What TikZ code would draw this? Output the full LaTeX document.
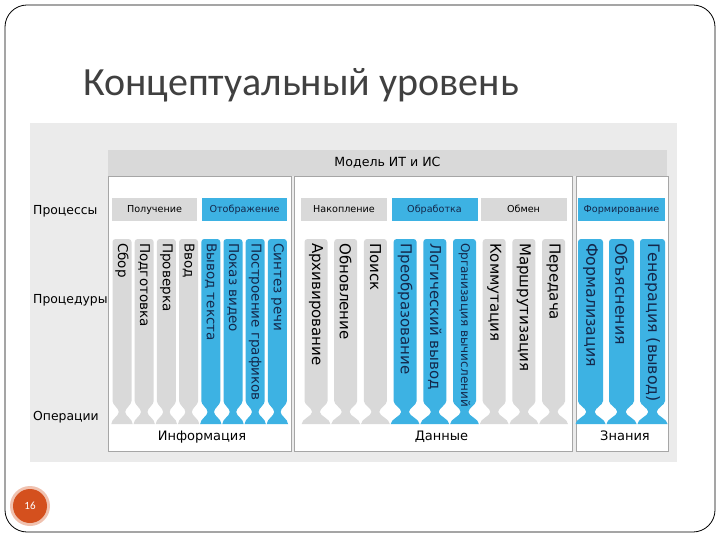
\documentclass[tikz,border=0pt]{standalone}
\usepackage{fontspec}
\setmainfont{DejaVu Sans}
\newfontfamily\titlefont{Carlito}
\definecolor{bluec}{HTML}{3DB2E3}
\definecolor{grayc}{HTML}{D9D9D9}
\definecolor{bgc}{HTML}{EBEBEB}
\definecolor{navy}{HTML}{14284B}
\definecolor{bordc}{HTML}{A6A6A6}
\definecolor{titlec}{HTML}{404040}
\definecolor{numc}{HTML}{D4501E}
\newcommand\colm[8]{%
  \pgfmathsetmacro\hw{#3/2}\pgfmathsetmacro\hn{#3*0.17}\pgfmathsetmacro\hp{#4/2-0.5}%
  \fill[#5] ({#2-\hw},300) [rounded corners=3pt] -- ({#2-\hw},239) -- ({#2+\hw},239) [sharp corners] -- ({#2+\hw},401)
    .. controls ({#2+\hw},405) and ({#2+\hn},408) .. ({#2+\hn},412)
    .. controls ({#2+\hn},416) and ({#2+\hp},419) .. ({#2+\hp},424)
    -- ({#2-\hp},424)
    .. controls ({#2-\hp},419) and ({#2-\hn},416) .. ({#2-\hn},412)
    .. controls ({#2-\hn},408) and ({#2-\hw},405) .. ({#2-\hw},401) -- cycle;
  \node[rotate=-90, anchor=west, text=#6, font=\fontsize{#7}{#7}\selectfont, inner sep=0pt] (#1) at (#2,243) {#8};%
}
\begin{document}
\begin{tikzpicture}[x=1pt,y=-1pt,
  panel/.style={fill=white, draw=bordc, line width=1pt, anchor=north west, inner sep=0pt},
  procg/.style={fill=grayc, text=black, minimum height=23pt, inner sep=0pt, text height=7pt, text depth=2pt, font=\fontsize{9.6}{10}\selectfont},
  procb/.style={procg, fill=bluec, text=navy},
  side/.style={anchor=west, inner sep=0pt, font=\fontsize{12.4}{13}\selectfont},
  bottom/.style={inner sep=0pt, text height=9.5pt, text depth=3pt, font=\fontsize{13}{14}\selectfont}]
\useasboundingbox (0,0) rectangle (720,540);
\draw[rounded corners=22pt, line width=0.8pt] (5,5) rectangle (715,532);
\node[anchor=base west, font=\titlefont\fontsize{40}{40}\selectfont, text=titlec, inner sep=0pt] (title) at (83,96) {Концептуальный уровень};
% background
\fill[bgc] (30,123) rectangle (677,462);
% panels
\node[panel, minimum width=183pt, minimum height=275pt] (p1) at (108,176) {};
\node[panel, minimum width=278pt, minimum height=275pt] (p2) at (294,176) {};
\node[panel, minimum width=92pt, minimum height=275pt] (p3) at (576,176) {};
% header
\node[fill=grayc, minimum width=559pt, minimum height=26pt, inner sep=0pt, font=\fontsize{12.6}{13}\selectfont] (hdr) at (387.5,163) {Модель ИТ и ИС};
% side labels
\node[side] (l1) at (33,211) {Процессы};
\node[side] (l2) at (33,300) {Процедуры};
\node[side] (l3) at (33,417) {Операции};
% processes
\node[procg, minimum width=85pt] (pr1) at (154.5,210) {Получение};
\node[procb, minimum width=85pt] (pr2) at (244.5,210) {Отображение};
\node[procg, minimum width=86pt] (pr3) at (344,210) {Накопление};
\node[procb, minimum width=86pt] (pr4) at (434.5,210) {Обработка};
\node[procg, minimum width=86pt] (pr5) at (523.5,210) {Обмен};
\node[procb, minimum width=87pt] (pr6) at (621.5,210) {Формирование};
% columns panel 1
\colm{c1}{122}{19}{22.2}{grayc}{black}{13.5}{Сбор}
\colm{c2}{144.2}{19}{22.2}{grayc}{black}{13.5}{Подготовка}
\colm{c3}{166.4}{19}{22.2}{grayc}{black}{13.5}{Проверка}
\colm{c4}{188.6}{19}{22.2}{grayc}{black}{13.5}{Ввод}
\colm{c5}{210.8}{19}{22.2}{bluec}{navy}{13.5}{Вывод текста}
\colm{c6}{233}{19}{22.2}{bluec}{navy}{13.5}{Показ видео}
\colm{c7}{255.2}{19}{22.2}{bluec}{navy}{13.5}{Построение графиков}
\colm{c8}{277.4}{19}{22.2}{bluec}{navy}{13.5}{Синтез речи}
% columns panel 2
\colm{c9}{316}{23}{29.7}{grayc}{black}{15}{Архивирование}
\colm{c10}{345.7}{23}{29.7}{grayc}{black}{15}{Обновление}
\colm{c11}{375.4}{23}{29.7}{grayc}{black}{15}{Поиск}
\colm{c12}{405.1}{23}{29.7}{bluec}{navy}{15}{Преобразование}
\colm{c13}{434.8}{23}{29.7}{bluec}{navy}{15}{Логический вывод}
\colm{c14}{464.5}{23}{29.7}{bluec}{navy}{12}{Организация вычислений}
\colm{c15}{494.2}{23}{29.7}{grayc}{black}{15}{Коммутация}
\colm{c16}{523.9}{23}{29.7}{grayc}{black}{15}{Маршрутизация}
\colm{c17}{553.6}{23}{29.7}{grayc}{black}{15}{Передача}
% columns panel 3
\colm{c18}{590.5}{25}{31}{bluec}{navy}{15.8}{Формализация}
\colm{c19}{621.5}{25}{31}{bluec}{navy}{15.8}{Объяснения}
\colm{c20}{652.5}{25}{31}{bluec}{navy}{15.8}{Генерация (вывод)}
% bottom labels
\node[bottom] (b1) at (202,437) {Информация};
\node[bottom] (b2) at (441.5,437) {Данные};
\node[bottom] (b3) at (625,437) {Знания};
% page number
\fill[numc!35] (30,506) circle (20pt);
\node[circle, fill=numc, minimum size=34pt, inner sep=0pt, text=white, font=\titlefont\fontsize{11}{12}\selectfont] (num) at (30,506) {16};
\end{tikzpicture}
\end{document}
